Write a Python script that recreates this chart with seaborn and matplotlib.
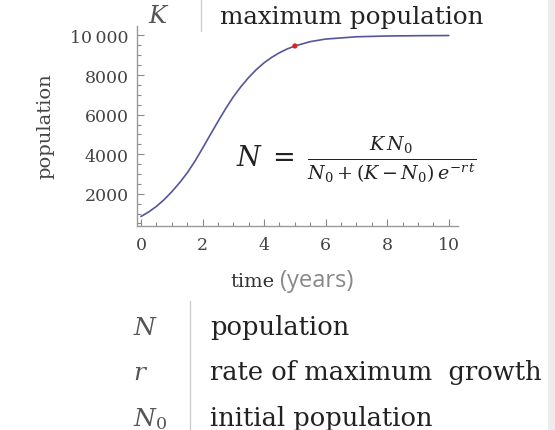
import matplotlib
matplotlib.use("Agg")
import matplotlib.pyplot as plt
import seaborn as sns
from matplotlib.ticker import MultipleLocator
from matplotlib.lines import Line2D

# values
time_years = [0, 0.25, 0.5, 0.75, 1.0, 1.25, 1.5, 1.75, 2.0, 2.25, 2.5, 2.75,
              3.0, 3.25, 3.5, 3.75, 4.0, 4.25, 4.5, 4.75, 5.0, 5.5, 6, 7, 8, 9, 10]
population = [850, 1080, 1360, 1700, 2100, 2550, 3050, 3640, 4300, 4980, 5650, 6300,
              6900, 7420, 7880, 8280, 8620, 8900, 9130, 9320, 9470, 9690, 9820, 9935, 9975, 9990, 9998]
marker_t = [5]
marker_n = [9470]

top_symbols = ["$K$"]
top_meanings = ["maximum population"]
bottom_symbols = ["$N$", "$r$", "$N_0$"]
bottom_meanings = ["population", "rate of maximum  growth", "initial population"]

sns.set_theme(style="white")
plt.rcParams["font.family"] = ["DejaVu Serif"]
plt.rcParams["mathtext.fontset"] = "dejavuserif"

W, H = 555, 431
fig = plt.figure(figsize=(W / 100, H / 100), dpi=100)
fig.patch.set_facecolor("white")

def fx(px):
    return px / W

def fy(py):
    return 1 - py / H

ax = fig.add_axes([fx(137), fy(227), fx(458) - fx(137), fy(27) - fy(227)])
sns.lineplot(x=time_years, y=population, ax=ax, color="#55559a", linewidth=1.2)
sns.scatterplot(x=marker_t, y=marker_n, ax=ax, color="#e02020", s=14, edgecolor="none", zorder=5)

ax.set_xlim(-0.13, 10.3)
ax.set_ylim(370, 10480)
ax.xaxis.set_major_locator(MultipleLocator(2))
ax.xaxis.set_minor_locator(MultipleLocator(0.5))
ax.yaxis.set_minor_locator(MultipleLocator(500))
ax.set_yticks([2000, 4000, 6000, 8000, 10000])
ax.set_yticklabels(["2000", "4000", "6000", "8000", "10\u2009000"])
ax.tick_params(which="both", direction="in", bottom=True, left=True,
               colors="#888888", labelcolor="#444444", labelsize=12.5, width=0.8)
ax.tick_params(which="major", length=5)
ax.tick_params(which="minor", length=3)
ax.tick_params(axis="x", pad=7)
ax.tick_params(axis="y", pad=6)
for side in ["top", "right"]:
    ax.spines[side].set_visible(False)
for side in ["left", "bottom"]:
    ax.spines[side].set_color("#999999")
    ax.spines[side].set_linewidth(1.0)
ax.set_xlabel("")
ax.set_ylabel("")

# axis labels
fig.text(fx(45), fy(126), "population", rotation=90, ha="center", va="center",
         fontsize=14, color="#444444")
fig.text(fx(275), fy(287), "time", ha="right", va="baseline", fontsize=14, color="#333333")
fig.text(fx(280), fy(287), "(years)", ha="left", va="baseline", fontsize=17,
         color="#888888", family=["Open Sans", "DejaVu Sans"])

# formula
fig.text(fx(356), fy(160), r"$N\;=\;\frac{K\,N_0}{N_0+(K-N_0)\,e^{-r\,t}}$",
         ha="center", va="center", fontsize=19.5, color="#222222")

# definitions table
for i, (sym, txt) in enumerate(zip(top_symbols, top_meanings)):
    fig.text(fx(148), fy(23), sym, ha="left", va="baseline", fontsize=17.5, color="#555555")
    fig.text(fx(220), fy(24), txt, ha="left", va="baseline", fontsize=17.7, color="#222222")
fig.add_artist(Line2D([fx(201), fx(201)], [fy(0), fy(32)], color="#cccccc", lw=1))

for i, (sym, txt) in enumerate(zip(bottom_symbols, bottom_meanings)):
    yb = 335 + i * 45.5
    fig.text(fx(133), fy(yb), sym, ha="left", va="baseline", fontsize=18, color="#555555")
    fig.text(fx(210), fy(yb), txt, ha="left", va="baseline", fontsize=18.5, color="#222222")
fig.add_artist(Line2D([fx(190), fx(190)], [fy(302), fy(431)], color="#cccccc", lw=1))

# light strip at right edge
fig.add_artist(plt.Rectangle((fx(548), 0), fx(7), 1, color="#ececec", lw=0))

fig.savefig("out.png", dpi=100)
